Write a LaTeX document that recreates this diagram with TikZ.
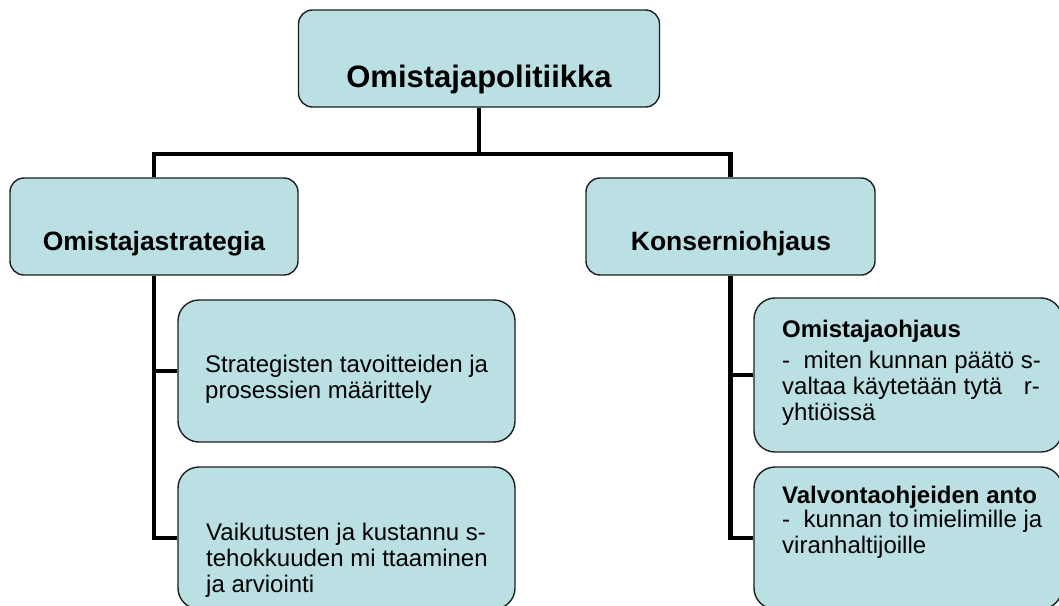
\documentclass[tikz,border=0pt]{standalone}
\usepackage{fontspec}
\setmainfont{Liberation Sans}
\usetikzlibrary{positioning}
\definecolor{boxfill}{RGB}{187,224,227}
\definecolor{boxline}{RGB}{30,30,30}

\begin{document}
\begin{tikzpicture}[
    x=1pt, y=-1pt,
every node/.style = {inner sep=0pt},
    box/.style    = {rectangle, draw=boxline, fill=boxfill,
                     line width=1.4pt, rounded corners=14pt},
    subbox/.style = {box, rounded corners=21pt,
                     minimum width=337pt, minimum height=142pt},
    conn/.style   = {line width=4.5pt, black, line join=miter},
    title/.style  = {font=\fontsize{31}{35}\selectfont\bfseries, anchor=base},
    head/.style   = {font=\fontsize{26.5}{30}\selectfont\bfseries, anchor=base},
    body/.style   = {font=\fontsize{24}{26}\selectfont, align=left,
                     anchor=north west}]
\clip (0,0) rectangle (1059,605);
% boxes
\node[box, minimum width=361pt, minimum height=97pt] (top)      at (479,58.5)  {};
\node[box, minimum width=288pt, minimum height=97pt] (strat)    at (154,226.5) {};
\node[box, minimum width=289pt, minimum height=97pt] (konserni) at (730.5,226.5) {};
\node[subbox]                                        (maar)     at (346.5,371) {};
\node[subbox]                                        (arvio)    at (346.5,538) {};
\node[subbox, minimum width=308pt, minimum height=154pt] (ohjaus)   at (908,375) {};
\node[subbox, minimum width=308pt]                       (valvonta) at (908,538) {};
\coordinate (bus) at (479,154);
% connectors
    \draw[conn] (top.south) -- (bus);
    \draw[conn] (strat.north) |- (bus) -| (konserni.north);
    \draw[conn] (strat.south) |- (maar.west);
    \draw[conn] (strat.south) |- (arvio.west);
    \draw[conn] (konserni.south) |- (ohjaus.west);
    \draw[conn] (konserni.south) |- (valvonta.west);
% texts
\node[title] (toptext)   at (479,87)  {Omistajapolitiikka};
\node[head]  (strattext) at (154,250) {Omistajastrategia};
\node[head]  (konstext)  at (731,250) {Konserniohjaus};
\node[body]  (maartext)  at (205,354.5)
    {Strategisten tavoitteiden ja\\prosessien määrittely};
\node[body]  (arviotext) at (206,522.5)
    {Vaikutusten ja kustannu s-\\tehokkuuden mi ttaaminen\\ja arviointi};
\node[head, anchor=base west, font=\fontsize{24}{27}\selectfont\bfseries]
             (ohjhead)   at (782,337) {Omistajaohjaus};
\node[body]  (ohjtext)   at (782,350.5)
    {-\ \ miten kunnan päätö s-\\valtaa käytetään tytä\hspace{0.9em}r-\\yhtiöissä};
\node[head, anchor=base west, font=\fontsize{24}{27}\selectfont\bfseries]
             (valvhead)  at (782,503) {Valvontaohjeiden anto};
\node[body]  (valvtext)  at (782,509.5)
    {-\ \ kunnan to\,imielimille ja\\viranhaltijoille};
\end{tikzpicture}
\end{document}
